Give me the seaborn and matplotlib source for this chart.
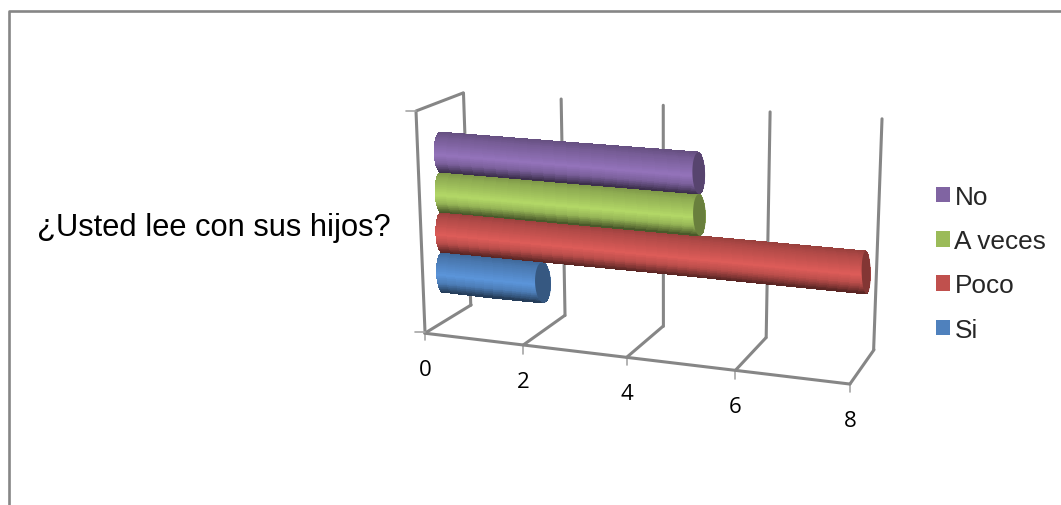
import numpy as np
import pandas as pd
import matplotlib
matplotlib.use("Agg")
import matplotlib.pyplot as plt
import matplotlib.transforms as mtransforms
from matplotlib.colors import to_rgb, ListedColormap
from matplotlib.patches import Patch
import seaborn as sns

# ---- data ----
categories = ["Si", "Poco", "A veces", "No"]
values = [2, 8, 5, 5]
colors = ["#4F81BD", "#C0504D", "#9BBB59", "#8064A2"]
x_ticks = [0, 2, 4, 6, 8]
category_label = "¿Usted lee con sus hijos?"

# ---- perspective layout (image pixels) ----
W, H = 1061, 506
GRID = "#868686"


class Homography(mtransforms.Transform):
    input_dims = output_dims = 2
    is_separable = False
    has_inverse = False

    def __init__(self, src, dst):
        super().__init__()
        rows, rhs = [], []
        for (u, v), (x, y) in zip(src, dst):
            rows.append([u, v, 1, 0, 0, 0, -u * x, -v * x]); rhs.append(x)
            rows.append([0, 0, 0, u, v, 1, -u * y, -v * y]); rhs.append(y)
        h = np.linalg.lstsq(np.array(rows, float), np.array(rhs, float), rcond=None)[0]
        self.m = np.append(h, 1).reshape(3, 3)

    def transform_non_affine(self, xy):
        xy = np.asarray(xy, float)
        p = np.c_[xy, np.ones(len(xy))] @ self.m.T
        return p[:, :2] / p[:, 2:]


front = [(425, 333), (523, 347), (627, 358), (735, 372), (850, 385)]
back = [(471, 306), (565, 317), (663, 327), (766, 339), (874, 350)]
top = [(463, 94), (562, 100), (663, 106), (770, 113), (882, 120)]

floor_h = Homography([(t, 0) for t in x_ticks] + [(t, 1) for t in x_ticks], front + back)
wall_h = Homography([(t, 0) for t in x_ticks] + [(t, 1) for t in x_ticks], back + top)
bar_h = Homography(
    [(0, 3), (5, 3), (0, 2), (5, 2), (0, 1), (8, 1), (0, 0), (2, 0)],
    [(440, 153.5), (699, 173.5), (440, 194), (699, 215.5),
     (442, 234), (866, 274), (441, 272), (544, 284)],
)

sns.set_theme(style="white")
fig = plt.figure(figsize=(W / 100, H / 100), dpi=100, facecolor="white")
ax = fig.add_axes([0, 0, 1, 1])

df = pd.DataFrame({"categoria": categories, "valor": values,
                   "posicion": np.arange(len(categories))})
sns.barplot(data=df, y="posicion", x="valor", hue="categoria", orient="y", native_scale=True,
            hue_order=categories, palette=colors, width=1.0, dodge=False,
            legend=False, saturation=1, ax=ax, zorder=5)

T_bar = bar_h + ax.transData
T_floor = floor_h + ax.transData
T_wall = wall_h + ax.transData

# ---- frame and gridlines ----
line_kw = dict(color=GRID, lw=2.2, solid_capstyle="round", zorder=1)
for t, (fx, fy) in zip(x_ticks, front):
    ax.plot([t, t], [0, 1], transform=T_floor, **line_kw)
    ax.plot([t, t], [0, 1], transform=T_wall, **line_kw)
    ax.plot([fx, fx], [fy, fy + 8], color="#a6a6a6", lw=1.2, zorder=1)
    ax.annotate(str(t), xy=(t, 0), xycoords=T_floor, xytext=(0, -36.5 * 0.72),
                textcoords="offset points", ha="center", va="center",
                fontsize=16, family="Open Sans", color="black")
ax.plot([x_ticks[0], x_ticks[-1]], [0, 0], transform=T_floor, **line_kw)
ax.plot([front[0][0], 416, top[0][0]], [front[0][1], 112, top[0][1]], **line_kw)
ax.plot([406, 416], [112, 112], color="#a6a6a6", lw=1.2, zorder=1)
ax.plot([415, 425], [333, 333], color="#a6a6a6", lw=1.2, zorder=1)

# outer chart border
ax.plot([9, 9, W], [H, 11.5, 11.5], color=GRID, lw=1.9, zorder=1)

# ---- cylinders built on the seaborn bars ----
u = np.linspace(-1, 1, 61)
profile = np.interp(u, [-1, -0.7, 0.15, 0.55, 0.85, 1],
                    [0.78, 0.90, 1.13, 0.95, 0.62, 0.42])
bulge = np.sqrt(np.clip(1 - u ** 2, 0, 1))
bars = sorted([p for p in ax.patches if p.get_width() > 0], key=lambda p: p.get_y())
rx_left = 0.12
for i, (patch, col) in enumerate(zip(bars, colors)):
    patch.set_transform(T_bar)
    patch.set_visible(False)
    v_end = patch.get_width()
    rx_right = 0.18 - 0.0125 * v_end
    c0, c1 = patch.get_y(), patch.get_y() + patch.get_height()
    cc = (c0 + c1) / 2 - (c1 - c0) / 2 * u    # u=-1 is the upper edge on screen
    left = -rx_left * bulge
    right = v_end + rx_right * bulge
    X = np.column_stack([left, (left + right) / 2, right])
    Y = np.column_stack([cc, cc, cc])
    rgb = np.array(to_rgb(col))
    shades = np.clip(np.outer(profile[:-1], rgb * 1.02), 0, 1)
    C = np.tile(np.arange(len(u) - 1)[:, None], (1, 2))
    ax.pcolormesh(X, Y, C, cmap=ListedColormap(shades), shading="flat", transform=T_bar,
                  zorder=5 + i, antialiased=False)
    # end cap
    th = np.linspace(0, 2 * np.pi, 80)
    ax.fill(v_end + rx_right * np.cos(th), (c0 + c1) / 2 + (c1 - c0) / 2 * np.sin(th),
            color=np.clip(rgb * 0.68, 0, 1), lw=0, transform=T_bar, zorder=5.5 + i)

# ---- text ----
ax.text(214, 228, category_label, ha="center", va="center",
        fontsize=22.2, family="Liberation Sans", color="black")

handles = [Patch(facecolor=c, edgecolor="none", label=l)
           for c, l in zip(colors[::-1], categories[::-1])]
leg = ax.legend(handles=handles, loc="upper left", bbox_to_anchor=(936 / W, 1 - 186 / H),
                bbox_transform=fig.transFigure, frameon=False, handlelength=0.533,
                handleheight=0.533, handletextpad=0.17, labelspacing=0.77, borderpad=0,
                borderaxespad=0,
                prop={"family": "Liberation Sans", "size": 18.9})

ax.set_xlim(0, W)
ax.set_ylim(H, 0)
ax.axis("off")
fig.savefig("out.png", dpi=100, facecolor="white")
